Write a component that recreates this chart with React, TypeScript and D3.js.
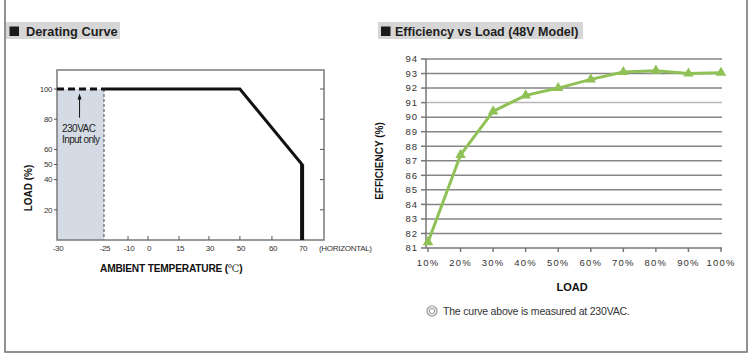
import React from 'react';
import * as d3 from 'd3';

// ---- Derating curve data ----
const tempTicks = [-30, -25, -10, 0, 15, 30, 50, 60, 70];
// irregular axis: relative position of each tick along the plot width
const tempTickFrac = [0, 0.176, 0.266, 0.341, 0.457, 0.569, 0.685, 0.805, 0.918];
const loadTicks = [100, 80, 60, 50, 40, 20];
const loadTicksRight = [100, 80, 60, 40, 20];
const dashedTemp = [-30, -25];
const dashedLoad = [100, 100];
const deratingTemp = [-25, 50, 70, 70];
const deratingLoad = [100, 100, 50, 0];

// ---- Efficiency data ----
const loadPct = [10, 20, 30, 40, 50, 60, 70, 80, 90, 100];
const efficiency = [81.4, 87.4, 90.4, 91.5, 92.0, 92.6, 93.1, 93.2, 93.0, 93.05];
const effTicks = [81, 82, 83, 84, 85, 86, 87, 88, 89, 90, 91, 92, 93, 94];

const FONT = "'Liberation Sans', Arial, sans-serif";

export default function App() {
  // left plot
  const L = { x0: 57, x1: 324, y0: 70, y1: 240 };
  const xL = d3
    .scaleLinear()
    .domain(tempTicks)
    .range(tempTickFrac.map((f) => L.x0 + f * (L.x1 - L.x0)));
  const yL = d3.scaleLinear().domain([0, 112.6]).range([L.y1, L.y0]);

  const lineL = d3
    .line<number>()
    .x((_, i) => xL(deratingTemp[i]))
    .y((d) => yL(d));
  const dashL = d3
    .line<number>()
    .x((_, i) => xL(dashedTemp[i]))
    .y((d) => yL(d));

  // right plot
  const R = { axisX: 426, x1: 722, y0: 59, y1: 248 };
  const xR = d3.scaleLinear().domain([10, 100]).range([428, 721]);
  const yR = d3.scaleLinear().domain([81, 94]).range([R.y1, R.y0]);
  const lineR = d3
    .line<number>()
    .x((_, i) => xR(loadPct[i]))
    .y((d) => yR(d));
  const tri = d3.symbol(d3.symbolTriangle, 48)();

  const green = '#8fc156';
  const frameGray = '#7a7a7a';

  return (
    <svg
      width={750}
      height={357}
      style={{ position: 'absolute', left: 0, top: 0, background: '#fff' }}
      fontFamily={FONT}
    >
      <rect x={0} y={0} width={750} height={357} fill="#fff" />
      {/* outer frame */}
      <path d="M5,0 V352 H747 V0" fill="none" stroke="#6e6e6e" strokeWidth={1.5} />

      {/* titles */}
      <rect x={6} y={22} width={114} height={17} fill="#d6d6d6" />
      <rect x={9.5} y={26.5} width={9.5} height={9.5} fill="#1a1a1a" />
      <text x={26} y={35.5} fontSize={12.8} fontWeight="bold" fill="#1e1e1e">
        Derating Curve
      </text>
      <rect x={378} y={22} width={205} height={17} fill="#d6d6d6" />
      <rect x={381} y={26.5} width={9.5} height={9.5} fill="#1a1a1a" />
      <text x={395} y={35.5} fontSize={12.5} fontWeight="bold" fill="#1e1e1e">
        Efficiency vs Load (48V Model)
      </text>

      {/* ===== Derating chart ===== */}
      <rect
        x={xL(-30)}
        y={yL(100)}
        width={xL(-25) - xL(-30)}
        height={yL(0) - yL(100)}
        fill="#d5dbe4"
      />
      <line
        x1={xL(-25)}
        x2={xL(-25)}
        y1={yL(100)}
        y2={yL(0)}
        stroke="#444"
        strokeWidth={1}
        strokeDasharray="3,2"
      />
      <rect
        x={L.x0}
        y={L.y0}
        width={L.x1 - L.x0}
        height={L.y1 - L.y0}
        fill="none"
        stroke={frameGray}
        strokeWidth={1.5}
      />
      {/* left ticks */}
      {loadTicks.map((t) => (
        <g key={'ly' + t}>
          <line x1={L.x0 - 3} x2={L.x0} y1={yL(t)} y2={yL(t)} stroke="#555" strokeWidth={1} />
          <text x={L.x0 - 5} y={yL(t)} dy="0.35em" textAnchor="end" fontSize={8} fill="#333" letterSpacing={-0.4}>
            {t}
          </text>
        </g>
      ))}
      {loadTicksRight.map((t) => (
        <line key={'ry' + t} x1={L.x1 - 4} x2={L.x1} y1={yL(t)} y2={yL(t)} stroke="#555" strokeWidth={1} />
      ))}
      {/* x ticks */}
      {tempTicks.map((t) => (
        <g key={'lx' + t}>
          {t !== -30 && t !== -25 && t !== 70 && (
            <line x1={xL(t)} x2={xL(t)} y1={L.y1} y2={L.y1 - 4} stroke="#555" strokeWidth={1} />
          )}
          <text x={xL(t) + 1} y={L.y1 + 11} textAnchor="middle" fontSize={8} fill="#333" letterSpacing={-0.4}>
            {t}
          </text>
        </g>
      ))}
      <text x={319} y={L.y1 + 11} fontSize={8} fill="#333" letterSpacing={-0.3}>
        (HORIZONTAL)
      </text>
      {/* curve */}
      <path d={dashL(dashedLoad) || ''} fill="none" stroke="#111" strokeWidth={3} strokeDasharray="7,4" />
      <path d={lineL(deratingLoad) || ''} fill="none" stroke="#111" strokeWidth={3} strokeLinejoin="miter" />
      <line x1={xL(70)} x2={xL(70)} y1={yL(50)} y2={yL(0)} stroke="#111" strokeWidth={4} />
      {/* annotation */}
      <line x1={xL(-27.6)} x2={xL(-27.6)} y1={yL(81)} y2={yL(95)} stroke="#111" strokeWidth={1} />
      <path
        d={`M${xL(-27.6)},${yL(97)} l-2,6 h4 z`}
        fill="#111"
      />
      <text x={xL(-30) + 5} y={132} fontSize={10} fill="#222" letterSpacing={-0.5}>
        230VAC
      </text>
      <text x={xL(-30) + 5} y={143} fontSize={10} fill="#222" letterSpacing={-0.6}>
        Input only
      </text>
      {/* axis titles */}
      <text
        transform="translate(32,188) rotate(-90)"
        textAnchor="middle"
        fontSize={10}
        fontWeight="bold"
        fill="#111"
      >
        LOAD (%)
      </text>
      <text x={100} y={272} fontSize={10.2} fontWeight="bold" fill="#111" letterSpacing={-0.2}>
        AMBIENT TEMPERATURE (
        <tspan fontWeight="normal" fontFamily="'DejaVu Serif', serif" fill="#333">
          ℃
        </tspan>
        )
      </text>

      {/* ===== Efficiency chart ===== */}
      {effTicks.map((t) => (
        <g key={'ey' + t}>
          {t !== 81 && (
            <line
              x1={R.axisX}
              x2={R.x1}
              y1={yR(t)}
              y2={yR(t)}
              stroke={t === 91 ? '#b8b8b8' : '#858585'}
              strokeWidth={1.5}
            />
          )}
          <line x1={R.axisX - 5} x2={R.axisX} y1={yR(t)} y2={yR(t)} stroke="#777" strokeWidth={1.5} />
          <text
            x={418}
            y={yR(t)}
            dy="0.35em"
            textAnchor="end"
            fontSize={9.5}
            letterSpacing={1}
            fill="#333"
          >
            {t}
          </text>
        </g>
      ))}
      <line x1={R.axisX} x2={R.axisX} y1={R.y0} y2={R.y1} stroke="#777" strokeWidth={1.5} />
      <line x1={R.axisX} x2={R.x1} y1={R.y1} y2={R.y1} stroke="#777" strokeWidth={1.5} />
      {loadPct.map((p) => (
        <g key={'ex' + p}>
          <line x1={xR(p)} x2={xR(p)} y1={R.y1} y2={R.y1 + 4} stroke="#777" strokeWidth={1.5} />
          <text
            x={xR(p)}
            y={R.y1 + 18}
            textAnchor="middle"
            fontSize={9.5}
            letterSpacing={1.2}
            fill="#333"
          >
            {p + '%'}
          </text>
        </g>
      ))}
      <path d={lineR(efficiency) || ''} fill="none" stroke={green} strokeWidth={3} strokeLinejoin="round" />
      {efficiency.map((v, i) => (
        <path key={'m' + i} d={tri || ''} transform={`translate(${xR(loadPct[i])},${yR(v)})`} fill={green} />
      ))}
      <text
        transform="translate(383,161) rotate(-90)"
        textAnchor="middle"
        fontSize={10}
        fontWeight="bold"
        fill="#111"
      >
        EFFICIENCY (%)
      </text>
      <text x={572} y={291} textAnchor="middle" fontSize={11} fontWeight="bold" fill="#111">
        LOAD
      </text>
      {/* footnote */}
      <circle cx={432} cy={311} r={5} fill="#eee" stroke="#9a9a9a" strokeWidth={1.2} />
      <circle cx={432} cy={311} r={2.6} fill="#fff" stroke="#9a9a9a" strokeWidth={1} />
      <text x={443} y={315} fontSize={10.5} fill="#333" letterSpacing={-0.2}>
        The curve above is measured at 230VAC.
      </text>
    </svg>
  );
}
